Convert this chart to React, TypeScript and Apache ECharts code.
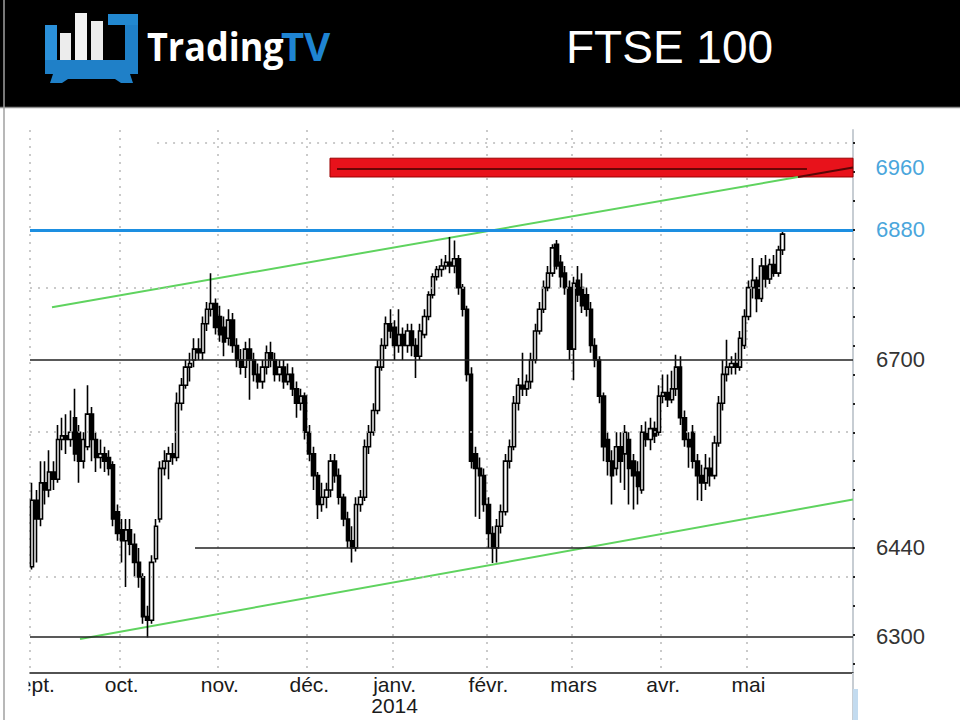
import React, { useEffect, useRef } from "react";
import * as echarts from "echarts";

// Month labels shown on the category axis (first trading day of each month)
const monthLabels = ["sept.", "oct.", "nov.", "déc.", "janv.\n2014", "févr.", "mars", "avr.", "mai"];

// Daily bars: [open, high, low, close]
const sep2013 = [
  [6414, 6530, 6410, 6506], [6506, 6520, 6420, 6480], [6480, 6560, 6470, 6530], [6530, 6560, 6500, 6520],
  [6520, 6575, 6510, 6545], [6545, 6560, 6520, 6535], [6535, 6610, 6530, 6590], [6590, 6620, 6575, 6595],
  [6595, 6625, 6570, 6590], [6590, 6630, 6580, 6600], [6620, 6660, 6560, 6570], [6600, 6610, 6530, 6560],
  [6560, 6600, 6550, 6590], [6580, 6665, 6575, 6625], [6625, 6635, 6560, 6590], [6590, 6600, 6545, 6565],
  [6565, 6590, 6550, 6570], [6570, 6580, 6545, 6560], [6565, 6575, 6540, 6550], [6555, 6560, 6470, 6480],
  [6490, 6500, 6450, 6460],
];
const oct2013 = [
  [6465, 6480, 6420, 6450], [6450, 6480, 6386, 6465], [6465, 6480, 6430, 6445], [6445, 6460, 6400, 6420],
  [6420, 6440, 6385, 6400], [6400, 6405, 6335, 6345], [6345, 6360, 6316, 6340], [6340, 6430, 6335, 6420],
  [6425, 6480, 6420, 6470], [6480, 6560, 6475, 6550], [6550, 6575, 6540, 6560], [6560, 6580, 6535, 6570],
  [6570, 6585, 6555, 6565], [6565, 6655, 6560, 6640], [6640, 6675, 6630, 6665], [6665, 6700, 6660, 6690],
  [6690, 6710, 6670, 6695], [6700, 6730, 6690, 6715], [6715, 6730, 6700, 6710], [6710, 6760, 6700, 6750],
  [6750, 6780, 6740, 6770], [6770, 6820, 6760, 6778], [6778, 6785, 6735, 6745],
];
const nov2013 = [
  [6760, 6775, 6725, 6735], [6745, 6760, 6705, 6725], [6730, 6770, 6720, 6755], [6755, 6765, 6710, 6720],
  [6720, 6730, 6690, 6700], [6700, 6715, 6680, 6690], [6690, 6725, 6675, 6715], [6715, 6730, 6645, 6700],
  [6700, 6710, 6670, 6680], [6680, 6695, 6660, 6670], [6670, 6700, 6660, 6690], [6690, 6720, 6680, 6710],
  [6710, 6725, 6690, 6700], [6700, 6710, 6670, 6680], [6680, 6700, 6670, 6690], [6690, 6700, 6660, 6670],
  [6670, 6695, 6665, 6680], [6680, 6690, 6650, 6660], [6660, 6670, 6620, 6640], [6640, 6660, 6630, 6650],
  [6650, 6655, 6590, 6600],
];
const dec2013 = [
  [6600, 6610, 6560, 6570], [6570, 6580, 6520, 6540], [6540, 6545, 6480, 6500], [6500, 6530, 6490, 6510],
  [6510, 6530, 6495, 6520], [6520, 6570, 6510, 6560], [6560, 6570, 6530, 6540], [6540, 6550, 6500, 6510],
  [6510, 6515, 6470, 6480], [6480, 6490, 6440, 6450], [6450, 6470, 6420, 6440], [6440, 6510, 6435, 6500],
  [6500, 6520, 6490, 6510], [6510, 6590, 6505, 6580], [6580, 6610, 6570, 6600], [6600, 6640, 6595, 6630],
  [6630, 6700, 6625, 6690], [6690, 6730, 6685, 6720], [6720, 6760, 6715, 6750], [6750, 6770, 6730, 6740],
];
const jan2014 = [
  [6745, 6755, 6700, 6720], [6720, 6770, 6710, 6735], [6735, 6745, 6700, 6720], [6720, 6750, 6710, 6740],
  [6740, 6750, 6705, 6720], [6720, 6730, 6675, 6705], [6705, 6750, 6700, 6740], [6735, 6770, 6730, 6760],
  [6760, 6795, 6755, 6790], [6790, 6820, 6785, 6815], [6815, 6830, 6810, 6825], [6825, 6840, 6815, 6830],
  [6830, 6845, 6825, 6835], [6835, 6870, 6820, 6830], [6830, 6865, 6820, 6840], [6840, 6845, 6790, 6800],
  [6800, 6805, 6760, 6770], [6770, 6775, 6670, 6680], [6680, 6690, 6550, 6560], [6570, 6580, 6483, 6550],
  [6550, 6565, 6480, 6540], [6540, 6550, 6490, 6500],
];
const feb2014 = [
  [6500, 6510, 6440, 6460], [6460, 6470, 6419, 6440], [6440, 6480, 6420, 6470], [6470, 6500, 6460, 6490],
  [6490, 6570, 6485, 6560], [6560, 6590, 6550, 6580], [6580, 6650, 6575, 6640], [6640, 6675, 6630, 6665],
  [6665, 6710, 6650, 6660], [6660, 6680, 6650, 6670], [6670, 6710, 6660, 6700], [6700, 6750, 6695, 6740],
  [6740, 6780, 6735, 6770], [6770, 6810, 6765, 6800], [6800, 6830, 6795, 6820], [6820, 6860, 6815, 6855],
  [6860, 6866, 6825, 6830], [6835, 6845, 6800, 6815], [6820, 6830, 6790, 6800], [6800, 6810, 6700, 6715],
];
const mar2014 = [
  [6715, 6815, 6672, 6806], [6810, 6830, 6780, 6790], [6800, 6820, 6765, 6775], [6790, 6800, 6760, 6770],
  [6770, 6780, 6710, 6720], [6720, 6730, 6690, 6700], [6700, 6705, 6640, 6650], [6650, 6655, 6560, 6580],
  [6590, 6600, 6540, 6560], [6560, 6575, 6500, 6540], [6550, 6600, 6540, 6580], [6580, 6600, 6530, 6560],
  [6570, 6610, 6520, 6600], [6590, 6600, 6500, 6550], [6560, 6570, 6493, 6540], [6545, 6560, 6500, 6525],
  [6520, 6610, 6515, 6600], [6600, 6615, 6580, 6590], [6590, 6620, 6575, 6605], [6605, 6615, 6585, 6595],
  [6600, 6665, 6595, 6650],
];
const apr2014 = [
  [6650, 6680, 6640, 6655], [6655, 6680, 6635, 6645], [6645, 6685, 6640, 6660], [6660, 6707, 6650, 6690],
  [6690, 6705, 6610, 6620], [6620, 6630, 6580, 6590], [6590, 6600, 6551, 6580], [6600, 6610, 6550, 6560],
  [6560, 6570, 6506, 6540], [6540, 6555, 6505, 6530], [6530, 6570, 6520, 6550], [6550, 6565, 6525, 6540],
  [6540, 6595, 6535, 6585], [6585, 6650, 6580, 6640], [6640, 6700, 6630, 6680], [6680, 6728, 6670, 6690],
  [6690, 6705, 6680, 6695], [6695, 6710, 6680, 6690], [6690, 6740, 6685, 6730], [6720, 6770, 6715, 6760],
];
const may2014 = [
  [6760, 6810, 6755, 6800], [6800, 6841, 6785, 6810], [6810, 6815, 6766, 6785], [6785, 6841, 6780, 6830],
  [6830, 6845, 6800, 6812], [6812, 6840, 6805, 6832], [6832, 6845, 6815, 6820], [6820, 6858, 6815, 6852],
  [6852, 6878, 6845, 6874],
];
const months = [sep2013, oct2013, nov2013, dec2013, jan2014, feb2014, mar2014, apr2014, may2014];
const emptySlotsAfter = 16;

// Horizontal levels drawn on the chart (value, right-hand label, first bar index or null = full width)
const levelValues = [6880, 6700, 6440, 6317];
const levelLabels = ["6880", "6700", "6440", "6300"];
const levelStarts: (number | null)[] = [null, null, 38.2, null];

// Resistance band
const bandLow = 6953;
const bandHigh = 6979;
const bandLabel = "6960";
const bandStart = 69.85;
const bandMid = 6964;
const bandMidRange = [71.5, 181.7];

// Dotted grid levels
const gridValues = [7000, 6800, 6600, 6400];
const gridStarts: (number | null)[] = [29.3, null, null, null];

// Trend lines: [bar index, price]
const upperTrend = [[4.66, 6773], [179.6, 6953]];
const upperTrendInBand = [[179.6, 6953], [192.5, 6966]];
const lowerTrend = [[11.23, 6314], [192.5, 6507]];

const categories: string[] = [];
const monthStart = new Set<number>();
const labelAt: Record<number, string> = {};
months.forEach((m, mi) => {
  monthStart.add(categories.length);
  labelAt[categories.length] = monthLabels[mi];
  m.forEach((_, d) => categories.push(`${mi}-${d}`));
});
for (let k = 0; k < emptySlotsAfter; k++) categories.push(`x-${k}`);
const candles = months.flat().map(([o, h, l, c]) => [o, c, l, h]);
const xMax = categories.length - 0.5;

export default function App() {
  const ref = useRef<HTMLDivElement>(null);
  useEffect(() => {
    if (!ref.current) return;
    const chart = echarts.init(ref.current, undefined, { renderer: "svg" });
    const blue = "#1d8fe1";
    const blueText = "#4aa6dc";
    const dark = "#222";
    const gridStyle = { color: "#b9b9b9", type: [2, 6] as any, width: 1.5 };
    const fullRight = xMax;

    const levelData = levelValues.map((v, i) => {
      const isBlue = i === 0;
      const lineStyle = { color: isBlue ? blue : dark, width: isBlue ? 3 : 1.5, type: "solid" };
      const label = {
        show: true,
        position: "end",
        distance: 23,
        formatter: levelLabels[i],
        color: isBlue ? blueText : "#333",
        fontSize: 22,
        fontFamily: "Liberation Sans",
      };
      const s = levelStarts[i];
      if (s == null) return { yAxis: v, lineStyle, label };
      return [{ coord: [s, v], lineStyle, label }, { coord: [fullRight, v] }];
    });

    const gridData = gridValues.map((v, i) => {
      const s = gridStarts[i];
      if (s == null) return { yAxis: v };
      return [{ coord: [s, v] }, { coord: [fullRight, v] }];
    });

    const option: any = {
      animation: false,
      backgroundColor: "#fff",
      textStyle: { fontFamily: "Liberation Sans" },
      grid: [
        { left: 30, right: 107, top: 130, bottom: 47 },
        { left: 30, right: 107, top: 143.1, bottom: 27.4 },
      ],
      xAxis: [
        {
          type: "category",
          gridIndex: 0,
          data: categories,
          boundaryGap: true,
          axisLine: { onZero: false, lineStyle: { color: "#1a1a1a", width: 1.5 } },
          axisTick: { show: false },
          axisLabel: {
            interval: (i: number) => monthStart.has(i),
            formatter: (_v: string, i: number) => labelAt[i] ?? "",
            color: "#1a1a1a",
            fontSize: 21,
            fontFamily: "Liberation Sans",
            margin: 1,
            lineHeight: 21,
          },
          splitLine: {
            show: true,
            interval: (i: number) => monthStart.has(i),
            lineStyle: gridStyle,
          },
        },
        { type: "value", gridIndex: 0, min: -0.5, max: xMax, show: false },
        { type: "value", gridIndex: 1, min: 0, max: 1, show: false },
      ],
      yAxis: [
        {
          type: "value",
          gridIndex: 0,
          position: "right",
          min: 6267,
          max: 7018,
          axisLine: { show: true, onZero: false, lineStyle: { color: "#c7cdd3", width: 2 } },
          axisTick: { show: false },
          axisLabel: { show: false },
          splitLine: { show: false },
        },
        {
          type: "value",
          gridIndex: 1,
          position: "right",
          min: 6240,
          max: 7000,
          interval: 40,
          axisLine: { show: false, onZero: false },
          axisTick: { show: true, length: 2, lineStyle: { color: "#222", width: 2 } },
          axisLabel: { show: false },
          splitLine: { show: false },
        },
      ],
      series: [
        {
          type: "line",
          name: "lower trend",
          xAxisIndex: 1,
          yAxisIndex: 0,
          data: lowerTrend,
          symbol: "none",
          lineStyle: { color: "#5fd35f", width: 2 },
          z: 1,
          silent: true,
          markLine: {
            silent: true,
            symbol: "none",
            label: { show: false },
            lineStyle: gridStyle,
            data: gridData,
          },
        },
        {
          type: "line",
          name: "upper trend",
          xAxisIndex: 1,
          yAxisIndex: 0,
          data: upperTrend,
          symbol: "none",
          lineStyle: { color: "#5fd35f", width: 2 },
          z: 1,
          silent: true,
        },
        {
          type: "candlestick",
          xAxisIndex: 0,
          yAxisIndex: 0,
          data: candles,
          barWidth: 3.8,
          itemStyle: {
            color: "#ffffff",
            color0: "#000000",
            borderColor: "#000000",
            borderColor0: "#000000",
            borderWidth: 1.6,
          },
          z: 3,
          silent: true,
        },
        {
          type: "line",
          name: "band",
          xAxisIndex: 1,
          yAxisIndex: 0,
          data: [],
          symbol: "none",
          clip: false,
          z: 4,
          silent: true,
          markArea: {
            silent: true,
            itemStyle: { color: "#e8121b", borderColor: "#9a0000", borderWidth: 1 },
            label: {
              show: true,
              position: "right",
              distance: 22,
              formatter: bandLabel,
              color: blueText,
              fontSize: 22,
              fontFamily: "Liberation Sans",
            },
            data: [[{ xAxis: bandStart, yAxis: bandLow }, { xAxis: xMax + 0.7, yAxis: bandHigh }]],
          },
        },
        {
          type: "line",
          name: "upper trend in band",
          xAxisIndex: 1,
          yAxisIndex: 0,
          data: upperTrendInBand,
          symbol: "none",
          lineStyle: { color: "#5a0606", width: 2 },
          z: 5,
          silent: true,
          markLine: {
            silent: true,
            symbol: "none",
            data: [
              [
                {
                  coord: [bandMidRange[0], bandMid],
                  lineStyle: { color: "#6a0505", width: 2, type: "solid" },
                  label: { show: false },
                },
                { coord: [bandMidRange[1], bandMid] },
              ],
              ...levelData,
            ],
          },
        },
      ],
      graphic: [
        { type: "rect", shape: { x: 0, y: 0, width: 960, height: 107 }, style: { fill: "#000" }, z: 10 },
        { type: "line", shape: { x1: 0, y1: 107.5, x2: 960, y2: 107.5 }, style: { stroke: "#8f8f8f", lineWidth: 1.5 }, z: 11 },
        { type: "line", shape: { x1: 4, y1: 0, x2: 4, y2: 720 }, style: { stroke: "#a0a0a0", lineWidth: 1.5 }, z: 11 },
        // logo
        { type: "rect", shape: { x: 45, y: 25, width: 12, height: 48 }, style: { fill: "#2b91da" }, z: 11 },
        { type: "rect", shape: { x: 45, y: 60, width: 93, height: 14 }, style: { fill: "#1f80c8" }, z: 11 },
        { type: "rect", shape: { x: 125, y: 14, width: 13, height: 60 }, style: { fill: "#1f80c8" }, z: 11 },
        { type: "rect", shape: { x: 108, y: 14, width: 30, height: 11 }, style: { fill: "#2288d0" }, z: 11 },
        {
          type: "polygon",
          shape: { points: [[53, 74], [130, 74], [133, 83], [121, 83], [115, 79], [68, 79], [62, 83], [50, 83]] },
          style: { fill: "#1f80c8" },
          z: 11,
        },
        { type: "rect", shape: { x: 60, y: 33, width: 11, height: 27 }, style: { fill: "#ececec" }, z: 12 },
        { type: "rect", shape: { x: 75, y: 13, width: 12, height: 47 }, style: { fill: "#f2f2f2" }, z: 12 },
        { type: "rect", shape: { x: 91, y: 21, width: 12, height: 39 }, style: { fill: "#ececec" }, z: 12 },
        {
          type: "text",
          x: 147,
          y: 45,
          scaleX: 0.9,
          style: { text: "Trading", fill: "#fff", fontSize: 40, fontWeight: "bold", fontFamily: "Open Sans", verticalAlign: "middle" },
          z: 12,
        },
        {
          type: "text",
          x: 281,
          y: 45,
          style: { text: "TV", fill: "#1f84d2", fontSize: 40, fontWeight: "bold", fontFamily: "Open Sans", verticalAlign: "middle" },
          z: 12,
        },
        {
          type: "text",
          x: 566,
          y: 47,
          style: { text: "FTSE 100", fill: "#fff", fontSize: 46, fontFamily: "Liberation Sans", verticalAlign: "middle" },
          z: 12,
        },
        // clip of first month label at the left edge
        { type: "rect", shape: { x: 6, y: 674, width: 22.5, height: 28 }, style: { fill: "#fff" }, z: 20 },
        // right edge: axis continuation and scrollbar
        { type: "line", shape: { x1: 853, y1: 673, x2: 853, y2: 720 }, style: { stroke: "#c7cdd3", lineWidth: 2 }, z: 11 },
        { type: "rect", shape: { x: 853, y: 689, width: 5, height: 31 }, style: { fill: "#c3dbef" }, z: 11 },
      ],
    };
    chart.setOption(option);
    return () => chart.dispose();
  }, []);
  return (
    <div
      ref={ref}
      style={{ position: "absolute", left: 0, top: 0, width: 960, height: 720, background: "#fff" }}
    />
  );
}
